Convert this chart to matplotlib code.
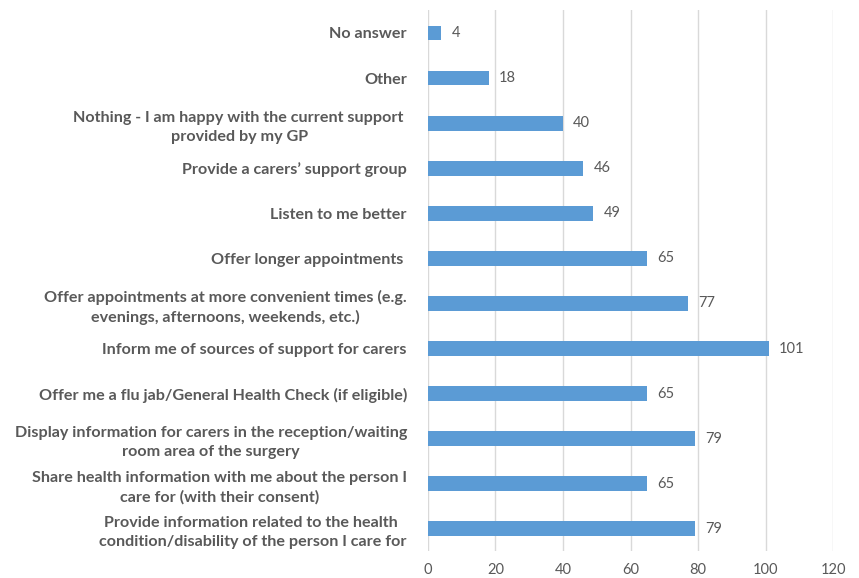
import matplotlib.pyplot as plt
import numpy as np

plt.rcParams['font.family'] = ['Lato', 'DejaVu Sans']

# answers, listed top to bottom
categories = [
    "No answer",
    "Other",
    "Nothing - I am happy with the current support \nprovided by my GP",
    "Provide a carers\u2019 support group",
    "Listen to me better",
    "Offer longer appointments ",
    "Offer appointments at more convenient times (e.g.\nevenings, afternoons, weekends, etc.)",
    "Inform me of sources of support for carers",
    "Offer me a flu jab/General Health Check (if eligible)",
    "Display information for carers in the reception/waiting\nroom area of the surgery",
    "Share health information with me about the person I\ncare for (with their consent)",
    "Provide information related to the health \ncondition/disability of the person I care for",
]
counts = [4, 18, 40, 46, 49, 65, 77, 101, 65, 79, 65, 79]
xticks = [0, 20, 40, 60, 80, 100, 120]

txt = '#595959'
bar_col = '#5B9BD5'

fig = plt.figure(figsize=(8.59, 5.78), dpi=100)
ax = fig.add_axes([0.498, 0.046, 0.472, 0.936])

y = np.arange(len(categories))
bars = ax.barh(y, counts, height=0.33, color=bar_col, zorder=3)
ax.set_ylim(len(categories) - 0.5, -0.5)
ax.set_xlim(0, 120)

for b, v in zip(bars, counts):
    ax.text(b.get_width() + 3, b.get_y() + b.get_height() / 2, str(v),
            va='center', ha='left', fontsize=10.5, color=txt)

ax.set_yticks(y)
ax.set_yticklabels(categories, fontsize=11.6, fontweight='bold', color=txt,
                   ha='right', multialignment='center', linespacing=1.45)
ax.set_xticks(xticks)
ax.tick_params(axis='x', length=0, labelsize=10.5, labelcolor=txt, pad=8)
ax.tick_params(axis='y', length=0, pad=15)

ax.grid(axis='x', color='#D9D9D9', linewidth=1, zorder=0)
for s in ax.spines.values():
    s.set_visible(False)

fig.savefig('out.png', dpi=100)
